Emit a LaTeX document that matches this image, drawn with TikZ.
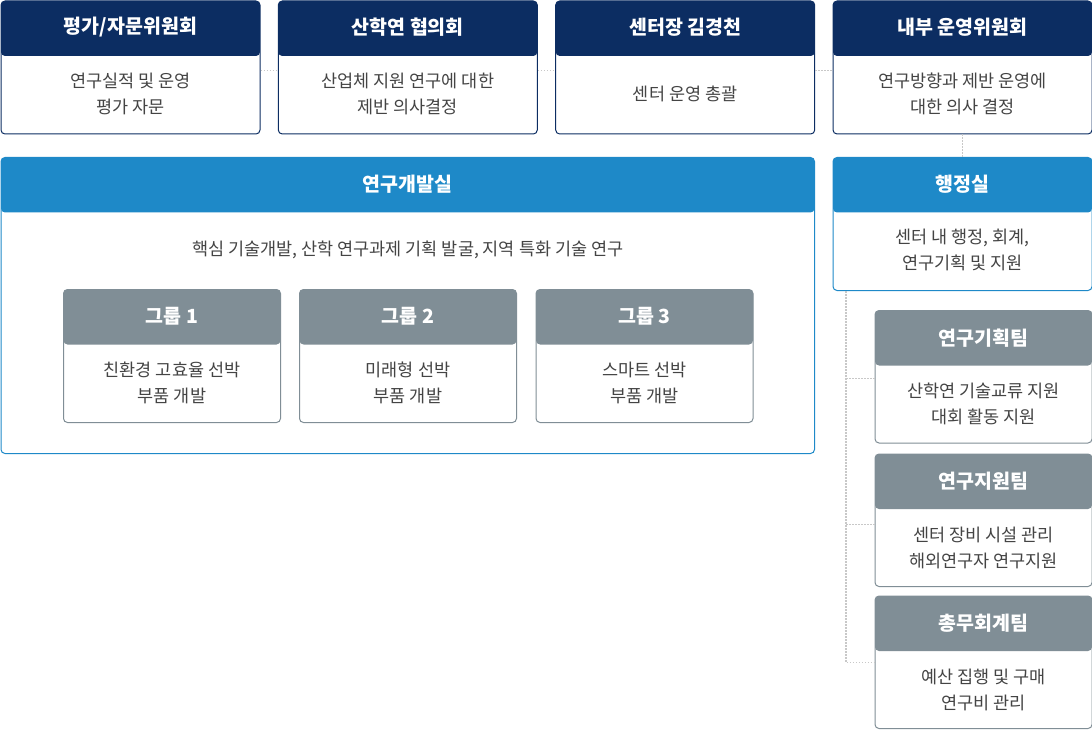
\documentclass[tikz,border=0pt]{standalone}
\usepackage{fontspec}
\setmainfont{Noto Sans CJK KR}
\definecolor{navy}{HTML}{0C2D62}
\definecolor{sky}{HTML}{1E89C8}
\definecolor{slate}{HTML}{808E96}
\definecolor{ink}{HTML}{444444}
\definecolor{dots}{HTML}{C8C8C8}
\begin{document}
\begin{tikzpicture}
  [x=1pt, y=-1pt,
   box/.style={draw=#1, line width=1pt, rounded corners=4pt, fill=white, inner sep=0pt, anchor=north west,
     path picture={\fill[#1] (path picture bounding box.north west) rectangle ([yshift=-55pt]path picture bounding box.north east);}},
   unitbox/.style={box=navy, minimum width=259pt, minimum height=133pt},
   groupbox/.style={box=slate, minimum width=217pt, minimum height=133pt},
   teambox/.style={box=slate, minimum width=217pt, minimum height=132.5pt},
   title/.style={text=white, font=\bfseries\fontsize{19.5}{22}\selectfont},
   body/.style={text=ink, align=center, font=\fontsize{17.5}{26}\selectfont},
   link/.style={draw=dots, line width=1.2pt, dash pattern=on 1.5pt off 1.5pt}]
  \useasboundingbox (0,0) rectangle (1092,730);

  \node[unitbox] (jury) at (0.5,0.5) {};
  \node[unitbox] (consult) at (277.8,0.5) {};
  \node[unitbox] (chief) at (555.2,0.5) {};
  \node[unitbox] (ops) at (832.5,0.5) {};
  \node[box=sky, minimum width=813.5pt, minimum height=296pt] (lab) at (0.5,157) {};
  \node[box=sky, minimum width=259pt, minimum height=133pt] (admin) at (832.5,157) {};
  \node[groupbox] (g1) at (63,289) {};
  \node[groupbox] (g2) at (299,289) {};
  \node[groupbox] (g3) at (535.5,289) {};
  \node[teambox] (plan) at (874.5,310) {};
  \node[teambox] (support) at (874.5,453.5) {};
  \node[teambox] (account) at (874.5,595.5) {};

  \node[title] (jury-t) at ([yshift=-27pt]jury.north) {평가/자문위원회};
  \node[body] (jury-b) at ([yshift=-93pt]jury.north) {연구실적 및 운영\\평가 자문};
  \node[title] (consult-t) at ([yshift=-27pt]consult.north) {산학연 협의회};
  \node[body] (consult-b) at ([yshift=-93pt]consult.north) {산업체 지원 연구에 대한\\제반 의사결정};
  \node[title] (chief-t) at ([yshift=-27pt]chief.north) {센터장 김경천};
  \node[body] (chief-b) at ([yshift=-93pt]chief.north) {센터 운영 총괄};
  \node[title] (ops-t) at ([yshift=-27pt]ops.north) {내부 운영위원회};
  \node[body] (ops-b) at ([yshift=-93pt]ops.north) {연구방향과 제반 운영에\\대한 의사 결정};

  \node[title] (lab-t) at ([yshift=-27pt]lab.north) {연구개발실};
  \node[body] (lab-b) at ([yshift=-93pt]lab.north) {핵심 기술개발, 산학 연구과제 기획 발굴, 지역 특화 기술 연구};
  \node[title] (g1-t) at ([yshift=-27pt]g1.north) {그룹 1};
  \node[body] (g1-b) at ([yshift=-94pt]g1.north) {친환경 고효율 선박\\부품 개발};
  \node[title] (g2-t) at ([yshift=-27pt]g2.north) {그룹 2};
  \node[body] (g2-b) at ([yshift=-94pt]g2.north) {미래형 선박\\부품 개발};
  \node[title] (g3-t) at ([yshift=-27pt]g3.north) {그룹 3};
  \node[body] (g3-b) at ([yshift=-94pt]g3.north) {스마트 선박\\부품 개발};

  \node[title] (admin-t) at ([yshift=-27pt]admin.north) {행정실};
  \node[body] (admin-b) at ([yshift=-93pt]admin.north) {센터 내 행정, 회계,\\연구기획 및 지원};
  \node[title] (plan-t) at ([yshift=-28pt]plan.north) {연구기획팀};
  \node[body] (plan-b) at ([yshift=-94pt]plan.north) {산학연 기술교류 지원\\대회 활동 지원};
  \node[title] (support-t) at ([yshift=-28pt]support.north) {연구지원팀};
  \node[body] (support-b) at ([yshift=-94pt]support.north) {센터 장비 시설 관리\\해외연구자 연구지원};
  \node[title] (account-t) at ([yshift=-28pt]account.north) {총무회계팀};
  \node[body] (account-b) at ([yshift=-94pt]account.north) {예산 집행 및 구매\\연구비 관리};

  \draw[link] ([yshift=-3pt]jury.east) -- ([yshift=-3pt]consult.west);
  \draw[link] ([yshift=-3pt]consult.east) -- ([yshift=-3pt]chief.west);
  \draw[link] ([yshift=-3pt]chief.east) -- ([yshift=-3pt]ops.west);
  \draw[link] (ops.south) -- (admin.north);
  \coordinate (trunk) at ([xshift=13.5pt]admin.south west);
  \draw[link] (trunk) |- (account.west);
  \draw[link] ([yshift=-2pt]plan.west) -- ([yshift=-2pt]plan.west -| trunk);
  \draw[link] ([yshift=-4pt]support.west) -- ([yshift=-4pt]support.west -| trunk);
\end{tikzpicture}
\end{document}
